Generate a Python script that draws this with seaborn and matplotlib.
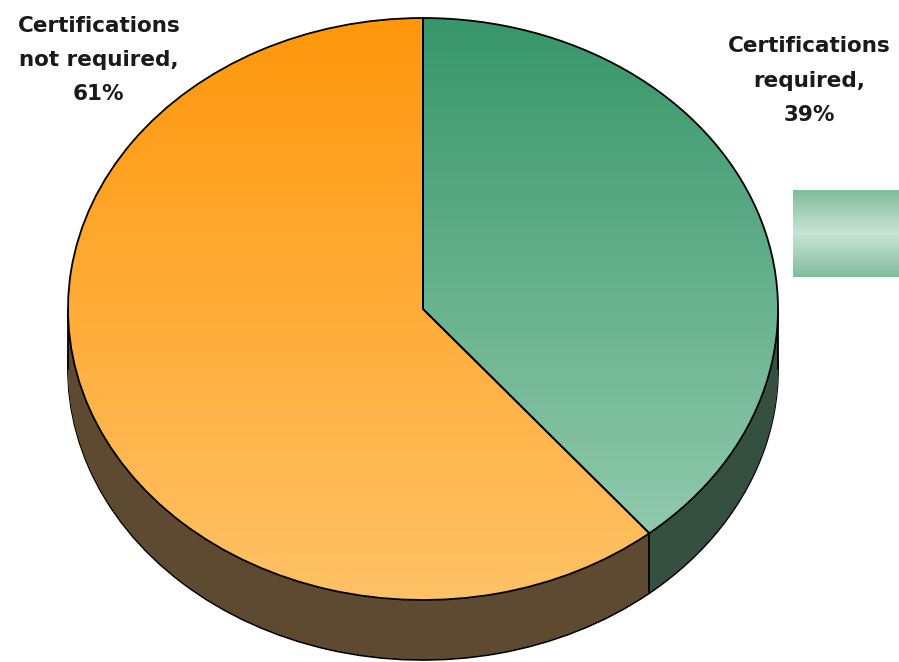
import numpy as np
import matplotlib
matplotlib.use("Agg")
import matplotlib.pyplot as plt
from matplotlib.colors import LinearSegmentedColormap
import seaborn as sns

sns.set_theme(style="white")
plt.rcParams['font.family'] = ['DejaVu Sans']

# Survey answer shares
categories = ["Certifications\nrequired", "Certifications\nnot required"]
shares = [39, 61]

# Top-face gradients (top colour -> bottom colour) and side-wall colours
top_gradients = [("#37966A", "#9CD0B6"), ("#FF970C", "#FFC266")]
side_colors = ["#35503F", "#5D4A31"]

depth = 0.206  # thickness of the disc in y units

fig = plt.figure(figsize=(8.99, 6.62), dpi=100)
ax = fig.add_axes([0, 0, 1, 1])
xlim = (-1.1915, 1.3408)
ylim = (-1.2131, 1.0619)

pie_kw = dict(startangle=90, counterclock=False, radius=1.0)

# Side wall: stack of flat pies extruded downward
layers = np.linspace(depth, 0, 80)
for i, d in enumerate(layers):
    if i == 0:
        ax.pie(shares, colors=side_colors, center=(0, -d),
               wedgeprops=dict(edgecolor="black", linewidth=1.3, zorder=1), **pie_kw)
    else:
        ax.pie(shares, colors=side_colors, center=(0, -d),
               wedgeprops=dict(edgecolor="none", linewidth=0, zorder=1), **pie_kw)

# Vertical edges of the wall where the slices meet and at the rim extremes
frac = np.cumsum(shares) / np.sum(shares)
for f in frac[:-1]:
    ang = np.deg2rad(90 - 360 * f)
    if np.sin(ang) < 0:
        x = np.cos(ang)
        ax.plot([x, x], [np.sin(ang), np.sin(ang) - depth], color="black",
                lw=1.3, zorder=1.5)
for x in (-1.0, 1.0):
    ax.plot([x, x], [0, -depth], color="black", lw=1.3, zorder=1.5)

# Top face with vertical gradient fills
wedges, _ = ax.pie(shares, colors=["none", "none"], center=(0, 0),
                   wedgeprops=dict(edgecolor="none", linewidth=0, zorder=2), **pie_kw)
grad = np.linspace(0, 1, 256).reshape(-1, 1)
for w, (c_top, c_bot) in zip(wedges, top_gradients):
    cmap = LinearSegmentedColormap.from_list("g", [c_top, c_bot])
    im = ax.imshow(grad, cmap=cmap, extent=(-1, 1, -1, 1), origin="upper",
                   aspect="auto", zorder=2.5)
    im.set_clip_path(w)
# Outlines of the top face
ax.pie(shares, colors=["none", "none"], center=(0, 0),
       wedgeprops=dict(edgecolor="black", linewidth=1.3, fill=False, zorder=3),
       **pie_kw)

ax.set_xlim(*xlim)
ax.set_ylim(*ylim)
ax.set_aspect("auto")
ax.axis("off")

# Labels
labels = [f"{c},\n{s}%" for c, s in zip(categories, shares)]
txt_kw = dict(ha="center", va="center", fontsize=15.5, fontweight="bold",
              color="#1a1a1a", linespacing=1.9, zorder=4)
ax.text(1.087, 0.784, labels[0], **txt_kw)
ax.text(-0.913, 0.856, labels[1], **txt_kw)

# Legend swatch cut by the right edge
lax = fig.add_axes([793 / 899, 1 - 277 / 662, 106 / 899, 87 / 662])
lg = np.concatenate([np.linspace(0, 1, 50), np.linspace(1, 0, 50)]).reshape(-1, 1)
lcmap = LinearSegmentedColormap.from_list("lg", ["#82BC9C", "#C8E4D5"])
lax.imshow(lg, cmap=lcmap, aspect="auto")
lax.axis("off")

fig.savefig("out.png", dpi=100)
